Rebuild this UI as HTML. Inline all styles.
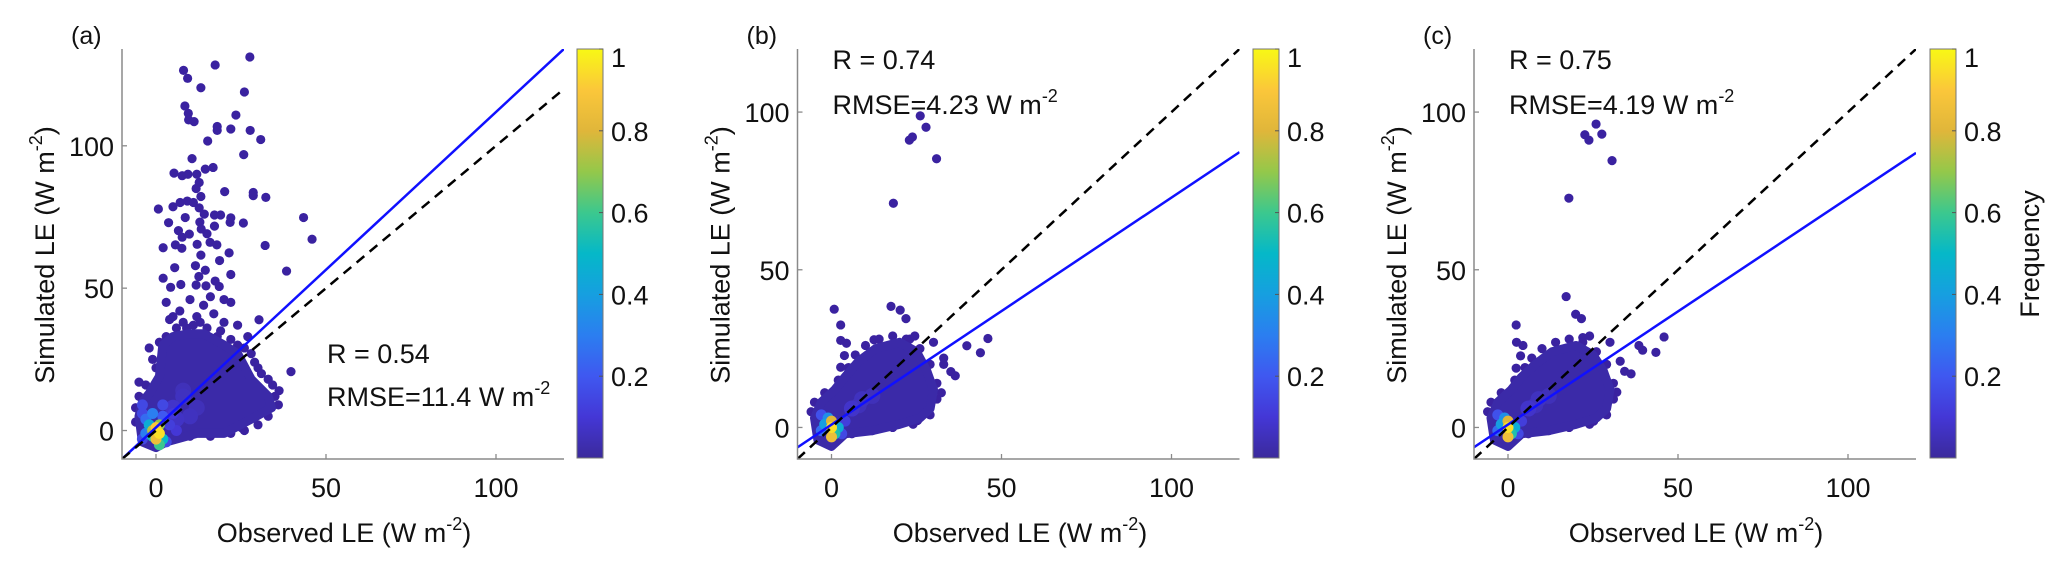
<!DOCTYPE html>
<html><head><meta charset="utf-8">
<style>
html,body{margin:0;padding:0;background:#fff;}
svg{display:block;font-family:"Liberation Sans",Arial,sans-serif;}
</style></head>
<body>
<svg id="fig" width="2068" height="573" viewBox="0 0 2068 573" xmlns="http://www.w3.org/2000/svg">
<defs>
<linearGradient id="parula" x1="0" y1="1" x2="0" y2="0">
<stop offset="0" stop-color="#3b2a9c"/><stop offset="0.1" stop-color="#4437d6"/>
<stop offset="0.2" stop-color="#3f58f0"/><stop offset="0.3" stop-color="#2b7ef0"/>
<stop offset="0.4" stop-color="#169fe0"/><stop offset="0.5" stop-color="#05b8c8"/>
<stop offset="0.6" stop-color="#3cc88e"/><stop offset="0.7" stop-color="#94c84a"/>
<stop offset="0.8" stop-color="#e0b63a"/><stop offset="0.9" stop-color="#fbc73a"/>
<stop offset="1" stop-color="#f8f815"/>
</linearGradient>
</defs>
</svg>
<script>
// ---- data ----
const panelLetters = ["(a)","(b)","(c)"];
const xTicks = [0,50,100];
const yTicks = [0,50,100];
const cbTicks = [0.2,0.4,0.6,0.8,1];
const cbTickLabels = ["0.2","0.4","0.6","0.8","1"];
const rValues = ["R = 0.54","R = 0.74","R = 0.75"];
const rmseValues = ["RMSE=11.4 W m","RMSE=4.23 W m","RMSE=4.19 W m"];
const yMax = [134,120,120];
const fitSlope = [1.108,0.72,0.718];
const fitIntercept = [1.08,0.9,0.9];
const outliersA = [[27.6,131.2],[17.4,128.4],[8.1,126.5],[9.3,123.7],[13.2,120.4],[26.0,118.9],[8.5,114.0],[9.5,111.4],[9.6,109.1],[11.2,108.5],[23.5,110.8],[18.0,106.8],[18.0,105.4],[22.0,105.9],[27.7,105.4],[30.8,102.2],[15.2,101.7],[25.8,96.9],[10.6,95.5],[5.3,90.4],[7.7,89.5],[9.4,90.0],[12.0,90.0],[12.7,87.1],[11.8,85.0],[14.5,91.8],[16.8,92.4],[20.2,83.9],[28.6,83.6],[28.6,82.5],[32.3,81.9],[13.2,82.2],[0.7,77.8],[5.0,78.6],[7.1,80.1],[9.2,80.6],[11.0,80.1],[12.7,78.2],[14.2,76.0],[17.2,75.7],[19.0,75.7],[22.0,74.7],[21.8,73.1],[8.6,74.8],[3.7,73.0],[12.9,73.2],[25.7,72.9],[43.4,74.8],[45.9,67.2],[6.6,70.2],[7.7,67.9],[9.8,69.0],[13.3,70.8],[15.0,69.1],[17.2,71.8],[12.1,65.4],[15.9,66.1],[17.9,65.2],[5.7,65.2],[2.1,64.2],[7.6,64.0],[32.1,65.0],[21.5,62.4],[13.2,61.6],[18.7,59.7],[11.6,57.9],[5.5,57.2],[14.5,56.3],[12.6,54.1],[22.0,54.8],[38.4,56.0],[2.1,53.5],[4.3,50.3],[7.3,51.3],[11.8,51.1],[14.7,50.8],[17.4,52.5],[18.6,50.6],[30.3,38.9],[39.7,20.7],[36.2,14],[32.1,10.3],[25.1,1],[34.3,16],[10,46],[14,44],[7,42],[12,40],[17,41],[20,38],[22,45],[24,37],[4,39],[9,36],[27,33],[1,31],[-2,29],[30,22],[33,18],[-5,17],[3,45],[16,47],[20,46],
[-6,8],[-6,3],[-5,12],[-3,16],[0,22],[2,26],[3,33],[6,36],[8,38],[11,37],[15,36],[18,33],[22,32],[26,29],[29,24],[31,20],[35,12],[36,9],[33,5],[30,2],[26,0],[22,-1],[16,-2],[10,-2],[5,-3],[5,40],[13,38],[19,35],[-1,25],[24,30],[28,27]];
const outliersB = [[26.1,98.8],[27.8,95.2],[22.9,91.1],[23.8,92.1],[30.9,85.2],[18.2,71.1],[0.8,37.5],[17.5,38.4],[20.2,37.2],[21.9,34.5],[2.7,32.5],[46.0,28.2],[43.8,23.7],[39.8,25.9],[36.4,16.4],[35.1,17.7],[25.3,2.2],[32.3,11],[2.7,27.6],[3.8,22.8],[2.7,19.1],[5.0,17.6],[12.5,27.8],[4.4,26.7],[24.5,29],[23,28],[30,27],[33,22],[33,20],
[-6,5],[-5,8],[-2,11],[2,15],[5,19],[7,23],[10,26],[14,28],[18,29],[22,28],[26,25],[29,20],[31,14],[31,9],[29,4],[24,1],[18,0],[12,-1],[6,-2]];
const outliersC = [[25.9,96.2],[22.6,92.8],[23.8,91.1],[27.6,93.0],[30.6,84.6],[17.9,72.7],[17.1,41.5],[19.9,35.9],[21.6,34.5],[2.4,32.5],[45.9,28.7],[43.5,23.8],[39.6,24.5],[38.5,26],[36.2,17],[34.3,17.8],[25.2,2],[32.0,11.2],[2.5,27],[4.4,26],[3.7,22.7],[2.4,18.8],[24,29],[22,28.5],[30,27],[33,21],
[-6,5],[-5,8],[-2,11],[2,15],[5,19],[7,22],[10,25],[14,27],[18,28],[22,27],[26,24],[29,20],[31,14],[31,9],[29,4],[24,1],[18,0],[12,-1],[6,-2]];
const cloudA = [[-4,-4],[-5,5],[-4,10],[-2,13],[1,19],[2,30],[5,33],[10,34],[14,34],[20,30],[24,27],[28,18],[33,12],[34,8],[28,4],[20,-1],[12,-1],[3,-4],[0,-6]];
const cloudB = [[-4,-4],[-5,3],[-3,8],[1,12],[4,16],[8,21],[13,25],[20,27],[25,24],[28,18],[30,12],[29,6],[26,3],[20,1],[12,-1],[4,-2],[0,-6]];
const cloudC = [[-4,-4],[-5,3],[-3,8],[1,12],[4,16],[8,20],[13,24],[20,26],[25,23],[28,18],[30,12],[29,6],[26,3],[20,1],[12,-1],[4,-2],[0,-6]];
const coreA = [[8,14,0.05],[12,8,0.05],[6,4,0.07],[5,8,0.08],[8,12,0.06],[10,5,0.06],[4,2,0.12],[5,6,0.1],[-4,6,0.15],[3,-4,0.15],[6,0,0.1],[-4,-3,0.15],[-4,9,0.15],[2,9,0.15],[-3,4,0.25],[-3,-1,0.3],[2,5,0.2],[-1,6,0.3],[-2,2,0.45],[2,-3,0.5],[1,-5,0.6],[-1,-2,0.55],[1,2,0.7],[-1,0,0.75],[0,-3,0.85],[0,1,0.9],[1,-1,0.95]];
const coreB = [[8,7,0.05],[12,10,0.05],[6,6,0.08],[9,9,0.06],[4,2,0.12],[-3,4,0.18],[3,-2,0.15],[-3,-1,0.25],[-1,3,0.35],[-2,1,0.4],[2,0,0.45],[1,-2,0.55],[0,-3,0.85],[0,2,0.8],[0,0,0.95]];
const coreC = [[8,7,0.05],[12,10,0.05],[6,6,0.08],[9,9,0.06],[4,2,0.12],[-3,4,0.18],[3,-2,0.15],[-3,-1,0.25],[-1,3,0.35],[-2,1,0.4],[2,0,0.45],[1,-2,0.55],[0,-3,0.85],[0,2,0.8],[0,0,0.95]];
const outliers = [outliersA,outliersB,outliersC];
const clouds = [cloudA,cloudB,cloudC];
const cores = [coreA,coreB,coreC];

// ---- layout ----
const NS = "http://www.w3.org/2000/svg";
const svg = document.getElementById("fig");
const plotLeft = [122,797.5,1474], plotW = 442, plotTop = 49, plotBottom = 459;
const cbLeft = [577,1253,1930], cbW = 26, cbTop = 49, cbBottom = 458;
const xMin = -10, xMax = 120, yMin = -10;
const stops = [[0,[59,42,156]],[0.1,[68,55,214]],[0.2,[63,88,240]],[0.3,[43,126,240]],[0.4,[22,159,224]],[0.5,[5,184,200]],[0.6,[60,200,142]],[0.7,[148,200,74]],[0.8,[224,182,58]],[0.9,[251,199,58]],[1,[248,248,21]]];
function cmap(f){for(let i=1;i<stops.length;i++){if(f<=stops[i][0]){const a=stops[i-1],b=stops[i],t=(f-a[0])/(b[0]-a[0]);const c=a[1].map((v,k)=>Math.round(v+(b[1][k]-v)*t));return "rgb("+c.join(",")+")";}}return "rgb(248,248,21)";}
function mk(tag, attrs, parent){const e=document.createElementNS(NS,tag);for(const k in attrs)e.setAttribute(k,attrs[k]);(parent||svg).appendChild(e);return e;}

for(let p=0;p<3;p++){
  const L=plotLeft[p];
  const sx=v=>L+(v-xMin)/(xMax-xMin)*plotW;
  const sy=v=>plotBottom-(v-yMin)/(yMax[p]-yMin)*(plotBottom-plotTop);
  const g=mk("g",{});
  
  
  const clipId="clip"+p;
  const cp=mk("clipPath",{id:clipId},g);
  mk("rect",{x:L,y:plotTop,width:plotW,height:plotBottom-plotTop},cp);
  const marks=mk("g",{"clip-path":"url(#"+clipId+")"},g);
  // outliers
  outliers[p].forEach(q=>{
    const c=mk("circle",{cx:sx(q[0]),cy:sy(q[1]),r:4.6,fill:"#3a22a0"},marks);
    
    
  });
  // dense cloud
  const poly=mk("polygon",{points:clouds[p].map(q=>sx(q[0])+","+sy(q[1])).join(" "),fill:"#3b2aa8",stroke:"#3b2aa8","stroke-width":9,"stroke-linejoin":"round"},marks);
  
  
  // core colored points
  cores[p].slice().sort((a,b)=>a[2]-b[2]).forEach(q=>{
    const c=mk("circle",{cx:sx(q[0]),cy:sy(q[1]),r:q[2]<0.1?8:5.5,fill:cmap(q[2])},marks);
    
    
  });
  // fit line
  const fl=mk("line",{x1:sx(xMin),y1:sy(fitSlope[p]*xMin+fitIntercept[p]),x2:sx(xMax),y2:sy(fitSlope[p]*xMax+fitIntercept[p]),stroke:"#1010ff","stroke-width":2.5},marks);
  
  
  const ol=mk("line",{x1:sx(xMin),y1:sy(xMin),x2:sx(xMax),y2:sy(xMax),stroke:"#000","stroke-width":2.5,"stroke-dasharray":"10,7"},marks);
  
  
  // axes
  const ax=mk("path",{d:"M"+L+","+plotTop+"V"+plotBottom+"H"+(L+plotW),fill:"none",stroke:"#8a8a8a","stroke-width":1.5},g);
  
  
  xTicks.forEach(v=>{
    mk("line",{x1:sx(v),x2:sx(v),y1:plotBottom,y2:plotBottom-5,stroke:"#8a8a8a","stroke-width":1.3},g);
    const t=mk("text",{x:sx(v),y:497,"font-size":27,"text-anchor":"middle",fill:"#111"},g);
    t.textContent=v;
    
    
  });
  yTicks.forEach(v=>{
    mk("line",{x1:L,x2:L+5,y1:sy(v),y2:sy(v),stroke:"#8a8a8a","stroke-width":1.3},g);
    const t=mk("text",{x:L-8,y:sy(v)+10,"font-size":27,"text-anchor":"end",fill:"#111"},g);
    t.textContent=v;
    
    
  });
  // labels
  const pl=mk("text",{x:L-51,y:44,"font-size":25,fill:"#111"},g);
  pl.textContent=panelLetters[p];
  
  
  const xl=mk("text",{x:[344,1020,1696][p],y:542,"font-size":27,"text-anchor":"middle",fill:"#111"},g);
  xl.innerHTML='Observed LE (W m<tspan font-size="18" dy="-12">-2</tspan><tspan dy="12">)</tspan>';
  
  
  const yx=L-68;
  const yl=mk("text",{x:0,y:0,"font-size":27,"text-anchor":"middle",fill:"#111",transform:"translate("+yx+",255) rotate(-90)"},g);
  yl.innerHTML='Simulated LE (W m<tspan font-size="18" dy="-12">-2</tspan><tspan dy="12">)</tspan>';
  
  
  const sxT = p===0?327:L+35;
  const rY = p===0?363:69, mY = p===0?406:114;
  const rt=mk("text",{x:sxT,y:rY,"font-size":27,fill:"#111"},g);
  rt.textContent=rValues[p];
  
  
  const mt=mk("text",{x:sxT,y:mY,"font-size":27,fill:"#111"},g);
  mt.innerHTML=rmseValues[p]+'<tspan font-size="18" dy="-12">-2</tspan>';
  
  
  // colorbar
  const cb=mk("rect",{x:cbLeft[p],y:cbTop,width:cbW,height:cbBottom-cbTop,fill:"url(#parula)",stroke:"#777","stroke-width":1},g);
  
  
  cbTicks.forEach((v,i)=>{
    const y=cbBottom-v*(cbBottom-cbTop);
    mk("line",{x1:cbLeft[p]+cbW-4,x2:cbLeft[p]+cbW,y1:y,y2:y,stroke:"#555","stroke-width":1},g);
    const t=mk("text",{x:cbLeft[p]+cbW+8,y:(v===1?y+18:y+10),"font-size":27,fill:"#111"},g);
    t.textContent=cbTickLabels[i];
    
    
  });
}
const fq=mk("text",{x:0,y:0,"font-size":27,"text-anchor":"middle",fill:"#111",transform:"translate(2039,254) rotate(-90)"});
fq.textContent="Frequency";


</script>
</body></html>
